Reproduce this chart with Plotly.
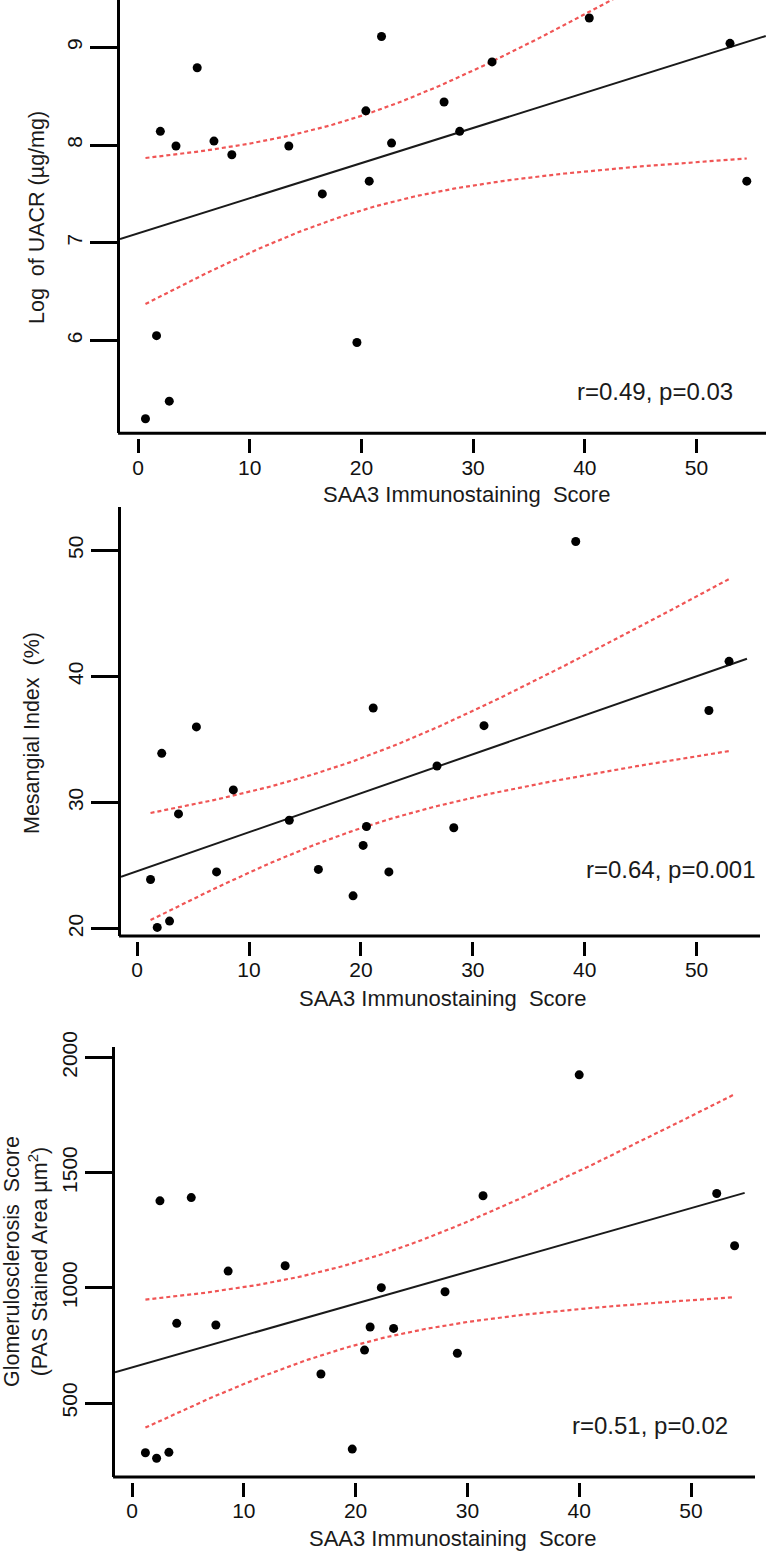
import numpy as np
import plotly.graph_objects as go

# ---------------- data ----------------
x_ticks = [0, 10, 20, 30, 40, 50]

# Panel A: SAA3 score vs Log of UACR
saa3_a = [2.0, 3.4, 5.3, 6.8, 8.4, 13.5, 16.5, 20.4, 20.7, 21.8, 22.7, 27.4, 28.8,
          31.7, 40.4, 53.0, 54.5, 1.66, 19.6, 2.8, 0.67]
uacr_log = [8.14, 7.99, 8.79, 8.04, 7.90, 7.99, 7.50, 8.35, 7.63, 9.11, 8.02, 8.44, 8.14,
            8.85, 9.30, 9.04, 7.63, 6.05, 5.98, 5.38, 5.20]
y_ticks_a = [6, 7, 8, 9]
label_a = "r=0.49, p=0.03"

# Panel B: SAA3 score vs Mesangial index
saa3_b = [2.2, 5.3, 21.1, 39.2, 52.9, 51.1, 31.0, 26.8, 8.6, 3.7, 13.6, 20.5, 28.3,
          20.2, 16.2, 7.1, 22.5, 1.2, 19.3, 1.8, 2.9]
mesangial = [33.9, 36.0, 37.5, 50.7, 41.2, 37.3, 36.1, 32.9, 31.0, 29.1, 28.6, 28.1, 28.0,
             26.6, 24.7, 24.5, 24.5, 23.9, 22.6, 20.1, 20.6]
y_ticks_b = [20, 30, 40, 50]
label_b = "r=0.64, p=0.001"

# Panel C: SAA3 score vs Glomerulosclerosis score
saa3_c = [2.5, 5.3, 8.6, 13.7, 40.0, 31.4, 52.3, 53.9, 22.3, 28.0, 4.0, 7.5, 21.3,
          23.4, 20.8, 29.1, 16.9, 19.7, 1.2, 2.2, 3.3]
glomerulo = [1378, 1392, 1073, 1096, 1925, 1400, 1410, 1183, 1001, 983, 846, 839, 830,
             824, 730, 716, 626, 300, 284, 260, 286]
y_ticks_c = [500, 1000, 1500, 2000]
label_c = "r=0.51, p=0.02"

x_title = "SAA3 Immunostaining  Score"
y_title_a = "Log  of UACR (µg/mg)"
y_title_b = "Mesangial Index  (%)"
y_title_c = "Glomerulosclerosis  Score<br>(PAS Stained Area µm<sup>2</sup>)"

T_CRIT = 2.093  # Student t, 0.975 quantile, 19 degrees of freedom

# ---------------- layout geometry (pixels) ----------------
W, H = 772, 1555
def fx(p):
    return p / W
def fy(p):
    return 1 - p / H

panels = [
    dict(x=saa3_a, y=uacr_log, yt=y_ticks_a, lab=label_a, ytitle=y_title_a,
         left=120, right=766, top=0, bottom=433.3, xa=138.0, xb=11.17,
         yref_px=193.9, yref_v=7.5, yslope=97.75, fit_end=56.2,
         lab_right=735, lab_y=391.7, xt_x=466, xt_y=495, yt_x=37, yt_y=218),
    dict(x=saa3_b, y=mesangial, yt=y_ticks_b, lab=label_b, ytitle=y_title_b,
         left=121, right=760, top=506.7, bottom=936.0, xa=137.1, xb=11.19,
         yref_px=739.5, yref_v=35.0, yslope=12.61, fit_end=54.5,
         lab_right=757, lab_y=870, xt_x=442, xt_y=998, yt_x=32, yt_y=733),
    dict(x=saa3_c, y=glomerulo, yt=y_ticks_c, lab=label_c, ytitle=y_title_c,
         left=115, right=755, top=1046.7, bottom=1477.0, xa=132.0, xb=11.18,
         yref_px=1230.3, yref_v=1250.0, yslope=0.2303, fit_end=54.8,
         lab_right=730, lab_y=1425, xt_x=452, xt_y=1538, yt_x=26, yt_y=1262),
]

FONT = "Liberation Sans, Arial, sans-serif"
TICK_FONT = dict(family=FONT, size=21, color="#111")
RED = "rgb(240,85,85)"

fig = go.Figure()
annotations = []
shapes = []

for i, p in enumerate(panels):
    k = "" if i == 0 else str(i + 1)
    xs = np.array(p["x"], dtype=float)
    ys = np.array(p["y"], dtype=float)
    n = len(xs)
    xbar, ybar = xs.mean(), ys.mean()
    sxx = ((xs - xbar) ** 2).sum()
    slope = ((xs - xbar) * (ys - ybar)).sum() / sxx
    icpt = ybar - slope * xbar
    resid = ys - (icpt + slope * xs)
    s = np.sqrt((resid ** 2).sum() / (n - 2))

    xr = [(p["left"] - p["xa"]) / p["xb"], (p["right"] - p["xa"]) / p["xb"]]
    yr = [p["yref_v"] - (p["bottom"] - p["yref_px"]) / p["yslope"],
          p["yref_v"] + (p["yref_px"] - p["top"]) / p["yslope"]]

    grid = np.linspace(xs.min(), xs.max(), 120)
    fit_g = icpt + slope * grid
    half = T_CRIT * s * np.sqrt(1 / n + (grid - xbar) ** 2 / sxx)

    xa_name, ya_name = "x" + k, "y" + k
    for band in (fit_g + half, fit_g - half):
        fig.add_trace(go.Scatter(x=grid, y=band, mode="lines", xaxis=xa_name, yaxis=ya_name,
                                 line=dict(color=RED, width=2.2, dash="4px,3px"),
                                 hoverinfo="skip", showlegend=False))
    lx = np.array([xr[0], p["fit_end"]])
    fig.add_trace(go.Scatter(x=lx, y=icpt + slope * lx, mode="lines", xaxis=xa_name, yaxis=ya_name,
                             line=dict(color="#1a1a1a", width=2), showlegend=False))
    fig.add_trace(go.Scatter(x=xs, y=ys, mode="markers", xaxis=xa_name, yaxis=ya_name,
                             marker=dict(color="black", size=9), showlegend=False))

    fig.layout["xaxis" + k] = dict(
        domain=[fx(p["left"]), fx(p["right"])], range=xr, anchor="free",
        position=fy(p["bottom"] + 5), showline=False, showgrid=False, zeroline=False,
        ticks="outside", ticklen=14, tickwidth=3, tickcolor="black",
        tickvals=x_ticks, tickfont=TICK_FONT, ticklabelstandoff=-4, automargin=False)
    fig.layout["yaxis" + k] = dict(
        domain=[fy(p["bottom"]), fy(p["top"])], range=yr, anchor=xa_name,
        showline=True, linewidth=3, linecolor="black", showgrid=False, zeroline=False,
        ticks="outside", ticklen=27, tickwidth=3, tickcolor="black",
        tickvals=p["yt"], tickangle=-90, tickfont=TICK_FONT, automargin=False)

    shapes.append(dict(type="line", xref=xa_name + " domain", yref=ya_name + " domain",
                       x0=-0.003, x1=1, y0=0, y1=0, line=dict(color="black", width=3)))

    annotations.append(dict(text=p["lab"], xref="paper", yref="paper", x=fx(p["lab_right"]),
                            y=fy(p["lab_y"]), xanchor="right", yanchor="middle", showarrow=False,
                            font=dict(family=FONT, size=24, color="#1a1a1a")))
    annotations.append(dict(text=x_title, xref="paper", yref="paper", x=fx(p["xt_x"]),
                            y=fy(p["xt_y"]), xanchor="center", yanchor="middle", showarrow=False,
                            font=dict(family=FONT, size=22, color="#1a1a1a")))
    annotations.append(dict(text=p["ytitle"], xref="paper", yref="paper", x=fx(p["yt_x"]),
                            y=fy(p["yt_y"]), xanchor="center", yanchor="middle", showarrow=False,
                            textangle=-90,
                            font=dict(family=FONT, size=21.5, color="#1a1a1a")))

fig.update_layout(template="none", width=W, height=H, autosize=False,
                  margin=dict(l=0, r=0, t=0, b=0, pad=0),
                  paper_bgcolor="white", plot_bgcolor="white",
                  annotations=annotations, shapes=shapes, showlegend=False)

fig.write_html("out.html", config={"displayModeBar": False},
               post_script="document.body.style.margin='0px';")
